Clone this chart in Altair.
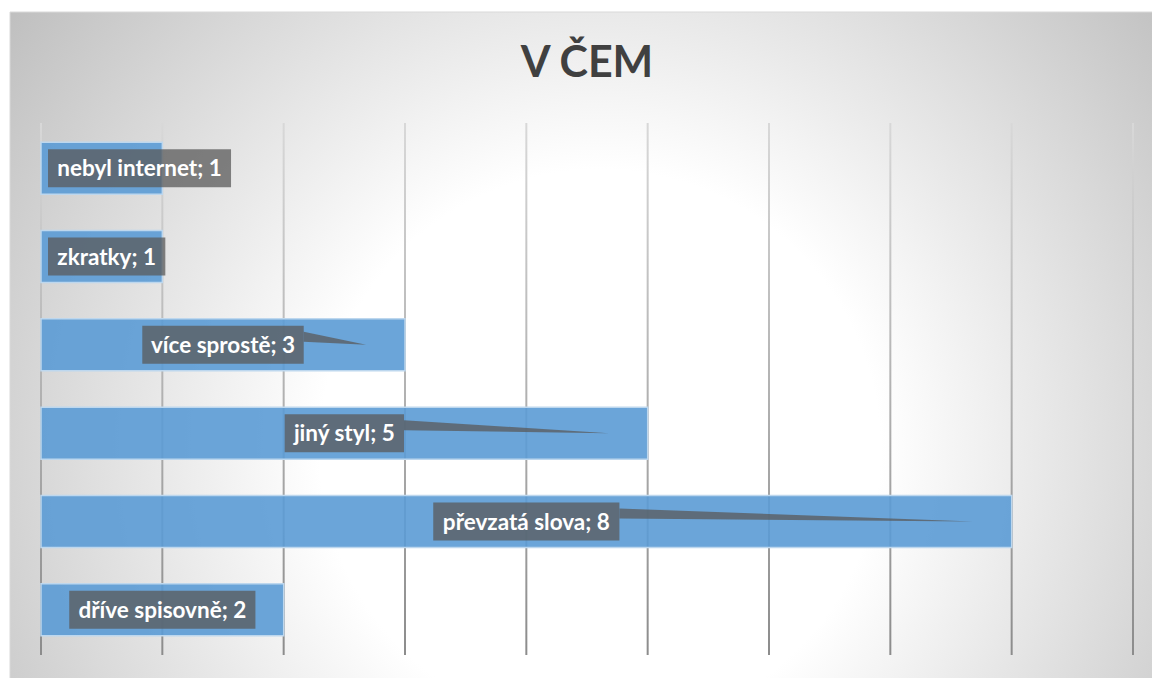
import altair as alt
import pandas as pd

# ---- data (top to bottom as shown) ----
categories = ["nebyl internet", "zkratky", "více sprostě", "jiný styl", "převzatá slova", "dříve spisovně"]
values = [1, 1, 3, 5, 8, 2]
grid_ticks = list(range(10))
title_text = "V ČEM"

# ---- layout constants ----
W, H = 1092, 530
XMAX = 9
PPU = W / XMAX
ROW = H / len(categories)
FONT = "Lato"
LABEL_SIZE = 22.5
TITLE_SIZE = 43

# rough Lato Bold advance widths (em)
CHAR_EM = {
    "a": 0.51, "á": 0.51, "b": 0.57, "c": 0.46, "d": 0.57, "e": 0.53, "é": 0.53, "ě": 0.53,
    "f": 0.34, "g": 0.52, "h": 0.57, "i": 0.26, "í": 0.26, "j": 0.26, "k": 0.53, "l": 0.26,
    "m": 0.85, "n": 0.57, "o": 0.57, "p": 0.57, "r": 0.39, "ř": 0.39, "s": 0.44, "t": 0.37,
    "u": 0.57, "v": 0.53, "y": 0.53, "ý": 0.53, "z": 0.47, " ": 0.20, ";": 0.26,
}


def text_px(s, size):
    return sum(CHAR_EM.get(ch, 0.58) for ch in s) * size


rows, wedge = [], []
for i, (c, v) in enumerate(zip(categories, values)):
    label = f"{c}; {v}"
    bw = text_px(label, LABEL_SIZE) + 19
    cx = max(v / 2 * PPU, 7 + bw / 2)
    bx1 = (cx + bw / 2) / PPU
    rows.append(dict(
        cat=c, val=v, idx=i, label=label, x0=0,
        y0=i - 26 / ROW, y1=i + 26 / ROW,
        bx0=(cx - bw / 2) / PPU, bx1=bx1, cx=cx / PPU,
        by0=i - 19 / ROW, by1=i + 19 / ROW,
    ))
    tip = v - 0.32
    if tip > bx1:
        wedge.append(dict(label=label, wx=bx1, wlo=i - 13 / ROW, whi=i - 3 / ROW))
        wedge.append(dict(label=label, wx=tip, wlo=i, whi=i))

df = pd.DataFrame(rows)
wdf = pd.DataFrame(wedge)
gdf = pd.DataFrame({"t": grid_ticks})
gdf["ta"] = gdf["t"] - 1 / PPU
gdf["tb"] = gdf["t"] + 1 / PPU

xs = alt.Scale(domain=[0, XMAX], nice=False, zero=False)
ys = alt.Scale(domain=[-0.5, len(categories) - 0.5], reverse=True, nice=False, zero=False)

bg_grad = {
    "gradient": "radial", "x1": 0.5, "y1": 0.5, "r1": 0, "x2": 0.5, "y2": 0.5, "r2": 0.63,
    "stops": [
        {"offset": 0, "color": "#ffffff"},
        {"offset": 0.377, "color": "#ffffff"},
        {"offset": 1, "color": "#bebebe"},
    ],
}
grid_grad = {
    "gradient": "linear", "x1": 0, "y1": 0, "x2": 0, "y2": 1,
    "stops": [
        {"offset": 0, "color": "#d8d8d8"},
        {"offset": 1, "color": "#8c8c8c"},
    ],
}

one = pd.DataFrame({"title": [title_text]})

background = alt.Chart(one).mark_rect(fill=bg_grad, stroke="#d9d9d9", strokeWidth=1).encode(
    x=alt.value(10 - 41), x2=alt.value(1190 - 41), y=alt.value(12 - 124), y2=alt.value(888 - 124)
)

grid = alt.Chart(gdf).mark_rect(fill=grid_grad).encode(
    x=alt.X("ta:Q", scale=xs, axis=None), x2="tb:Q",
    y=alt.value(-1), y2=alt.value(H + 1),
)

bars = alt.Chart(df).mark_rect(fill="#5B9BD5", fillOpacity=0.9, stroke="#bdd7ee", strokeWidth=1.5).encode(
    x=alt.X("x0:Q", scale=xs, axis=None), x2="val:Q",
    y=alt.Y("y0:Q", scale=ys, axis=None), y2="y1:Q",
)

boxes = alt.Chart(df).mark_rect(fill="#595959", fillOpacity=0.75).encode(
    x=alt.X("bx0:Q", scale=xs, axis=None), x2="bx1:Q",
    y=alt.Y("by0:Q", scale=ys, axis=None), y2="by1:Q",
)

wedges = alt.Chart(wdf).mark_area(orient="vertical", fill="#595959", fillOpacity=0.75).encode(
    x=alt.X("wx:Q", scale=xs, axis=None),
    y=alt.Y("wlo:Q", scale=ys, axis=None), y2="whi:Q",
    detail="label:N",
)

labels = alt.Chart(df).mark_text(
    font=FONT, fontSize=LABEL_SIZE, fontWeight="bold", color="white",
    align="center", baseline="middle", dy=1,
).encode(
    x=alt.X("cx:Q", scale=xs, axis=None),
    y=alt.Y("idx:Q", scale=ys, axis=None),
    text="label:N",
)

title = alt.Chart(one).mark_text(
    font=FONT, fontSize=TITLE_SIZE, fontWeight="bold", color="#404040",
    align="center", baseline="alphabetic",
).encode(x=alt.value(W / 2), y=alt.value(-47), text="title:N")

chart = alt.layer(background, grid, bars, boxes, wedges, labels, title).properties(
    width=W, height=H,
    padding={"left": 41, "top": 124, "right": 19, "bottom": 24},
    autosize=alt.AutoSizeParams(type="none"),
    background="white",
).configure_view(stroke=None)

chart.save("out.html", embed_options={"renderer": "svg", "actions": False})
